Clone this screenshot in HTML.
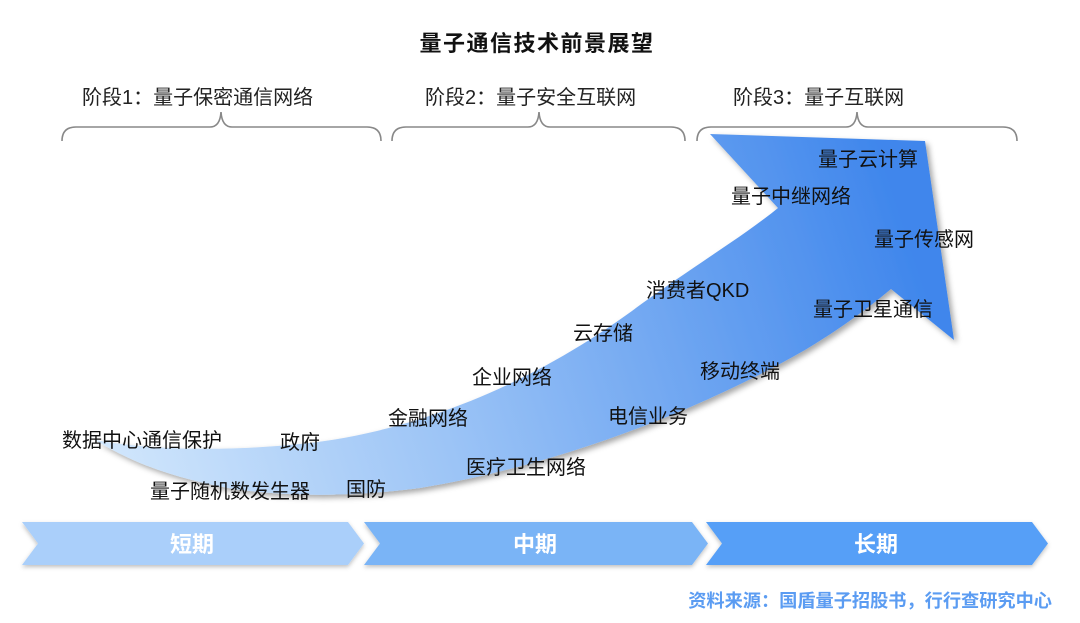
<!DOCTYPE html>
<html><head><meta charset="utf-8"><style>
html,body{margin:0;padding:0;background:#fff;}
svg text{font-family:"Liberation Sans","Noto Sans CJK SC",sans-serif;}
</style></head><body>
<svg width="1080" height="618" viewBox="0 0 1080 618" xmlns="http://www.w3.org/2000/svg">
<defs>
<linearGradient id="g" x1="100" y1="460" x2="900" y2="200" gradientUnits="userSpaceOnUse">
<stop offset="0" stop-color="#d2e7fc"/>
<stop offset="0.4" stop-color="#9cc4f6"/>
<stop offset="1" stop-color="#3f86ec"/>
</linearGradient>
<filter id="sh" x="-10%" y="-10%" width="130%" height="130%"><feDropShadow dx="3" dy="3" stdDeviation="3" flood-color="#000" flood-opacity="0.35"/></filter>
<filter id="sh2" x="-5%" y="-20%" width="110%" height="150%"><feDropShadow dx="0" dy="2" stdDeviation="2" flood-color="#000" flood-opacity="0.25"/></filter>
</defs>
<text x="537" y="51" font-size="22" font-weight="bold" text-anchor="middle" fill="#111" letter-spacing="1.5">量子通信技术前景展望</text>
<g font-size="20" fill="#222">
<text x="82" y="104">阶段1：量子保密通信网络</text>
<text x="425" y="104">阶段2：量子安全互联网</text>
<text x="733" y="104">阶段3：量子互联网</text>
</g>
<g fill="none" stroke="#888" stroke-width="1.6">
<path d="M62,141 Q62,127 76,127 L210,127 Q220,127 221,112 Q222,127 232,127 L367,127 Q381,127 381,141"/>
<path d="M392,141 Q392,127 406,127 L528,127 Q538,127 539,112 Q540,127 550,127 L671,127 Q685,127 685,141"/>
<path d="M697,141 Q697,127 711,127 L846,127 Q856,127 857,112 Q858,127 868,127 L1003,127 Q1017,127 1017,141"/>
</g>
<path filter="url(#sh)" fill="url(#g)" d="M95,440 C160,452 240,450 300,444 C420,432 540,380 640,305 C700,262 745,235 778,208 L710,134 L925,141 L954,340 L891,289 C860,315 830,335 805,350 C700,410 560,465 420,488 C330,500 250,495 200,482 C150,470 120,455 95,440 Z"/>
<g font-size="20" fill="#111">
<text x="62" y="447">数据中心通信保护</text>
<text x="280" y="449">政府</text>
<text x="150" y="498">量子随机数发生器</text>
<text x="346" y="496">国防</text>
<text x="388" y="425">金融网络</text>
<text x="466" y="474">医疗卫生网络</text>
<text x="472" y="384">企业网络</text>
<text x="608" y="423">电信业务</text>
<text x="573" y="340">云存储</text>
<text x="700" y="378">移动终端</text>
<text x="646" y="297">消费者QKD</text>
<text x="731" y="203">量子中继网络</text>
<text x="818" y="166">量子云计算</text>
<text x="874" y="246">量子传感网</text>
<text x="813" y="316">量子卫星通信</text>
</g>
<g filter="url(#sh2)">
<path fill="#aacffa" d="M22,522 L348,522 L364,543.5 L348,565 L22,565 L38,543.5 Z"/>
<path fill="#7ab4f6" d="M364,522 L692,522 L708,543.5 L692,565 L364,565 L380,543.5 Z"/>
<path fill="#569ff7" d="M706,522 L1032,522 L1048,543.5 L1032,565 L706,565 L722,543.5 Z"/>
</g>
<g font-size="22" font-weight="bold" fill="#fff" text-anchor="middle">
<text x="192" y="552">短期</text>
<text x="535" y="552">中期</text>
<text x="876" y="552">长期</text>
</g>
<text x="1052" y="607" font-size="18.2" font-weight="bold" fill="#5b9cf2" text-anchor="end">资料来源：国盾量子招股书，行行查研究中心</text>
</svg>
</body></html>
